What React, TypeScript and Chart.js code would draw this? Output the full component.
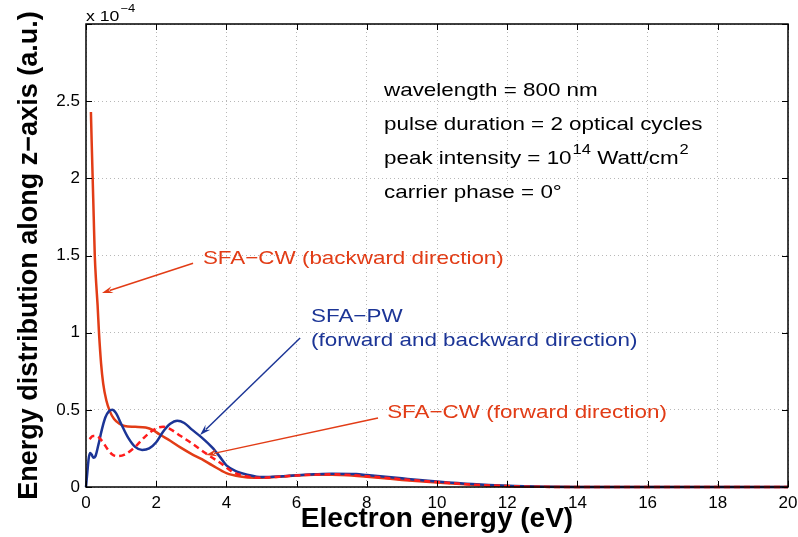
import React, { useEffect, useRef } from 'react';
import { Chart, registerables } from 'chart.js';

Chart.register(...registerables);

// Electron energy (eV) and energy distribution (x 1e-4 a.u.)
const cwBackwardX = [0.14, 0.16, 0.19, 0.22, 0.25, 0.29, 0.33, 0.37, 0.43, 0.49, 0.58, 0.68, 0.8, 0.95, 1.1, 1.4, 1.7, 1.9, 2.1, 2.4, 2.7, 3.0, 3.3, 3.6, 4.0, 4.4, 4.8, 5.2, 5.6, 6.0, 6.5, 7.0, 7.5, 8.0, 8.5, 9.0, 10.0, 11.0, 12.0, 13.0, 14.0, 20.0];
const cwBackwardY = [2.43, 2.25, 2.0, 1.75, 1.5, 1.32, 1.18, 1.0, 0.8, 0.67, 0.56, 0.49, 0.44, 0.41, 0.395, 0.39, 0.385, 0.37, 0.34, 0.3, 0.255, 0.215, 0.18, 0.14, 0.09, 0.068, 0.06, 0.062, 0.068, 0.074, 0.079, 0.08, 0.076, 0.066, 0.056, 0.046, 0.029, 0.015, 0.006, 0.002, 0.0, 0.0];

const pwX = [0.0, 0.04, 0.08, 0.12, 0.16, 0.21, 0.27, 0.35, 0.45, 0.55, 0.65, 0.75, 0.85, 1.0, 1.2, 1.4, 1.6, 1.8, 2.0, 2.2, 2.4, 2.6, 2.8, 3.0, 3.3, 3.6, 3.8, 4.0, 4.3, 4.6, 5.0, 5.5, 6.0, 6.5, 7.0, 7.7, 8.0, 9.0, 10.0, 11.0, 12.0, 13.0, 14.0, 20.0];
const pwY = [0.0, 0.1, 0.19, 0.22, 0.21, 0.19, 0.2, 0.27, 0.37, 0.45, 0.49, 0.5, 0.48, 0.41, 0.32, 0.26, 0.24, 0.25, 0.29, 0.36, 0.41, 0.43, 0.415, 0.375, 0.32, 0.255, 0.2, 0.14, 0.1, 0.08, 0.064, 0.068, 0.076, 0.082, 0.086, 0.084, 0.077, 0.056, 0.036, 0.019, 0.008, 0.002, 0.0, 0.0];

const cwForwardX = [0.1, 0.2, 0.3, 0.45, 0.6, 0.75, 0.9, 1.1, 1.4, 1.7, 2.0, 2.2, 2.4, 2.7, 3.0, 3.4, 3.8, 4.2, 4.6, 5.0, 5.5, 6.0, 7.0, 8.0, 9.0, 10.0, 11.0, 12.0, 13.0, 14.0, 20.0];
const cwForwardY = [0.31, 0.33, 0.33, 0.3, 0.25, 0.21, 0.2, 0.21, 0.26, 0.33, 0.38, 0.39, 0.375, 0.33, 0.285, 0.22, 0.16, 0.095, 0.068, 0.06, 0.067, 0.075, 0.082, 0.07, 0.05, 0.032, 0.016, 0.006, 0.001, 0.0, 0.0];

const xTickStep = 2;
const yTickStep = 0.5;
const yLabelledMax = 2.5;

const infoLines = ['wavelength = 800 nm', 'pulse duration = 2 optical cycles', 'peak intensity = 10', 'carrier phase = 0°'];
const infoAnchor = [8.49, 2.57];
const backwardLabel = 'SFA\u2212CW (backward direction)';
const pwLabel = ['SFA\u2212PW', '(forward and backward direction)'];
const forwardLabel = 'SFA\u2212CW (forward direction)';
const backwardLabelAt = [3.33, 1.48];
const pwLabelAt = [6.41, 1.1, 0.95];
const forwardLabelAt = [8.58, 0.48];
const backwardArrow = [3.05, 1.45, 0.456, 1.257];
const pwArrow = [6.1, 0.965, 3.25, 0.337];
const forwardArrow = [8.32, 0.447, 3.42, 0.207];

const RED = '#e23c16';
const DASHRED = '#ff1c1c';
const BLUE = '#1c3596';
const FONT = '"Liberation Sans", Arial, Helvetica, sans-serif';
const SX = 1.18;

function pts(xs: number[], ys: number[]) {
  return xs.map((x, i) => ({ x, y: ys[i] }));
}

function sText(ctx: CanvasRenderingContext2D, s: string, x: number, y: number) {
  ctx.save();
  ctx.translate(x, y);
  ctx.scale(SX, 1);
  ctx.fillText(s, 0, 0);
  const w = ctx.measureText(s).width * SX;
  ctx.restore();
  return w;
}

function arrow(ctx: CanvasRenderingContext2D, x0: number, y0: number, x1: number, y1: number, color: string) {
  const ang = Math.atan2(y1 - y0, x1 - x0);
  const L = 11, W = 3.5;
  const bx = x1 - L * Math.cos(ang), by = y1 - L * Math.sin(ang);
  ctx.save();
  ctx.strokeStyle = color;
  ctx.fillStyle = color;
  ctx.lineWidth = 1.5;
  ctx.beginPath();
  ctx.moveTo(x0, y0);
  ctx.lineTo(bx + 3 * Math.cos(ang), by + 3 * Math.sin(ang));
  ctx.stroke();
  ctx.beginPath();
  ctx.moveTo(x1, y1);
  ctx.lineTo(bx - W * Math.sin(ang), by + W * Math.cos(ang));
  ctx.lineTo(bx + 4 * Math.cos(ang), by + 4 * Math.sin(ang));
  ctx.lineTo(bx + W * Math.sin(ang), by - W * Math.cos(ang));
  ctx.closePath();
  ctx.fill();
  ctx.restore();
}

const framePlugin = {
  id: 'frame',
  afterDatasetsDraw(chart: any) {
    const { ctx, chartArea: a, scales } = chart;
    const xs = scales.x, ys = scales.y;
    const X = (v: number) => xs.getPixelForValue(v);
    const Y = (v: number) => ys.getPixelForValue(v);
    ctx.save();
    ctx.strokeStyle = '#000';
    ctx.lineWidth = 1.5;
    ctx.strokeRect(a.left, a.top, a.right - a.left, a.bottom - a.top);
    ctx.lineWidth = 1;
    ctx.beginPath();
    xs.ticks.forEach((t: any) => {
      const p = Math.round(X(t.value)) + 0.5;
      ctx.moveTo(p, a.bottom); ctx.lineTo(p, a.bottom - 6);
      ctx.moveTo(p, a.top); ctx.lineTo(p, a.top + 6);
    });
    ys.ticks.forEach((t: any) => {
      const p = Math.round(Y(t.value)) + 0.5;
      ctx.moveTo(a.left, p); ctx.lineTo(a.left + 6, p);
      ctx.moveTo(a.right, p); ctx.lineTo(a.right - 6, p);
    });
    ctx.stroke();

    // exponent
    ctx.fillStyle = '#000';
    ctx.textBaseline = 'alphabetic';
    ctx.textAlign = 'left';
    ctx.font = `15px ${FONT}`;
    const w0 = sText(ctx, 'x 10', a.left, a.top - 3);
    ctx.font = `11px ${FONT}`;
    sText(ctx, '\u22124', a.left + w0 + 1, a.top - 12);

    // info text
    ctx.font = `19px ${FONT}`;
    ctx.textBaseline = 'middle';
    const ix = X(infoAnchor[0]);
    const iy = Y(infoAnchor[1]);
    const dy = 34;
    sText(ctx, infoLines[0], ix, iy);
    sText(ctx, infoLines[1], ix, iy + dy);
    let w = sText(ctx, infoLines[2], ix, iy + 2 * dy);
    ctx.font = `14px ${FONT}`;
    w += sText(ctx, '14', ix + w + 1, iy + 2 * dy - 8) + 1;
    ctx.font = `19px ${FONT}`;
    w += sText(ctx, ' Watt/cm', ix + w, iy + 2 * dy);
    ctx.font = `14px ${FONT}`;
    sText(ctx, '2', ix + w + 1, iy + 2 * dy - 8);
    ctx.font = `19px ${FONT}`;
    sText(ctx, infoLines[3], ix, iy + 3 * dy);

    // labels
    ctx.fillStyle = RED;
    sText(ctx, backwardLabel, X(backwardLabelAt[0]), Y(backwardLabelAt[1]));
    sText(ctx, forwardLabel, X(forwardLabelAt[0]), Y(forwardLabelAt[1]));
    ctx.fillStyle = BLUE;
    sText(ctx, pwLabel[0], X(pwLabelAt[0]), Y(pwLabelAt[1]));
    sText(ctx, pwLabel[1], X(pwLabelAt[0]), Y(pwLabelAt[2]));

    arrow(ctx, X(backwardArrow[0]), Y(backwardArrow[1]), X(backwardArrow[2]), Y(backwardArrow[3]), RED);
    arrow(ctx, X(pwArrow[0]), Y(pwArrow[1]), X(pwArrow[2]), Y(pwArrow[3]), BLUE);
    arrow(ctx, X(forwardArrow[0]), Y(forwardArrow[1]), X(forwardArrow[2]), Y(forwardArrow[3]), RED);
    ctx.restore();
  },
};

export default function App() {
  const ref = useRef<HTMLCanvasElement | null>(null);
  useEffect(() => {
    if (!ref.current) return;
    const grid = {
      color: '#b8b8b8',
      lineWidth: 1,
      drawTicks: false,
    };
    const chart = new Chart(ref.current, {
      type: 'line',
      data: {
        datasets: [
          {
            label: 'SFA-CW forward',
            data: pts(cwForwardX, cwForwardY),
            borderColor: DASHRED,
            borderWidth: 2.5,
            borderDash: [6, 4],
            pointRadius: 0,
            cubicInterpolationMode: 'monotone',
            clip: 4,
          },
          {
            label: 'SFA-PW',
            data: pts(pwX, pwY),
            borderColor: BLUE,
            borderWidth: 2.5,
            pointRadius: 0,
            cubicInterpolationMode: 'monotone',
            clip: 4,
          },
          {
            label: 'SFA-CW backward',
            data: pts(cwBackwardX, cwBackwardY),
            borderColor: RED,
            borderWidth: 2.5,
            pointRadius: 0,
            cubicInterpolationMode: 'monotone',
            clip: 4,
          },
        ],
      },
      options: {
        animation: false,
        responsive: false,
        devicePixelRatio: 1,
        layout: { padding: { top: 24, right: 10, left: 0, bottom: 0 } },
        plugins: { legend: { display: false }, tooltip: { enabled: false } },
        scales: {
          x: {
            type: 'linear',
            min: 0,
            max: 20,
            afterFit: (s: any) => { s.height = 50; s.paddingRight = 0; s.paddingLeft = 0; },
            ticks: { stepSize: xTickStep, color: '#000', padding: 6, font: { family: FONT, size: 17 }, maxRotation: 0 },
            grid: { ...grid },
            border: { display: false, dash: [1, 3] },
            title: { display: true, text: 'Electron energy (eV)', color: '#000', font: { family: FONT, size: 28, weight: 'bold' }, padding: { top: 0, bottom: 1 } },
          },
          y: {
            type: 'linear',
            min: 0,
            max: 3,
            afterFit: (s: any) => { s.width = 86; s.paddingTop = 0; s.paddingBottom = 0; },
            ticks: {
              stepSize: yTickStep,
              color: '#000',
              padding: 6,
              font: { family: FONT, size: 17 },
              callback: (v: any) => (v > yLabelledMax ? '' : String(v)),
            },
            grid: { ...grid },
            border: { display: false, dash: [1, 3] },
            title: { display: true, text: 'Energy distribution along z\u2212axis (a.u.)', color: '#000', font: { family: FONT, size: 27, weight: 'bold' }, padding: { top: 13, bottom: 0 } },
          },
        },
      },
      plugins: [framePlugin],
    } as any);
    return () => chart.destroy();
  }, []);
  return (
    <div style={{ position: 'fixed', left: 0, top: 0, width: 798, height: 537, background: '#fff' }}>
      <canvas ref={ref} width={798} height={537} style={{ width: 798, height: 537, display: 'block' }} />
    </div>
  );
}
